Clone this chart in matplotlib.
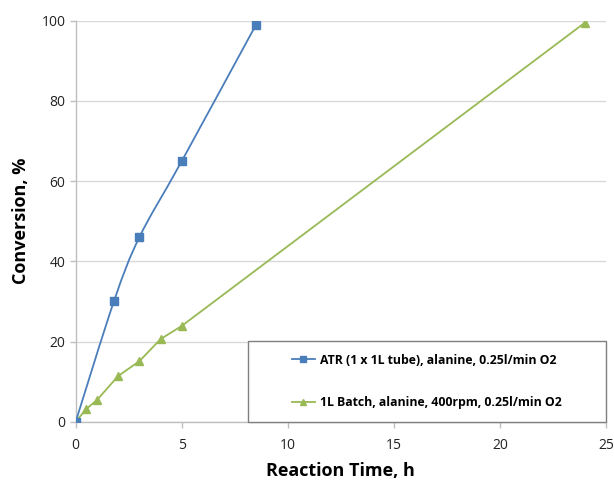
import matplotlib.pyplot as plt
import numpy as np
from matplotlib.path import Path
from matplotlib.patches import PathPatch, Rectangle

# data
atr_t = [0, 1.8, 3, 5, 8.5]
atr_conv = [0, 30, 46, 65, 99]
batch_t = [0, 0.5, 1, 2, 3, 4, 5, 24]
batch_conv = [0, 3.2, 5.4, 11.4, 15.1, 20.6, 23.9, 99.5]

atr_label = "ATR (1 x 1L tube), alanine, 0.25l/min O2"
batch_label = "1L Batch, alanine, 400rpm, 0.25l/min O2"
xticks = [0, 5, 10, 15, 20, 25]
yticks = [0, 20, 40, 60, 80, 100]

blue = "#4A7EBB"
green = "#98B954"
grey = "#BFBFBF"

plt.rcParams['font.family'] = ['Open Sans', 'DejaVu Sans']


def smooth_path(x, y, k=1 / 6.):
    # Excel style smoothed line through the given points (bezier segments)
    x = np.asarray(x, float)
    y = np.asarray(y, float)
    n = len(x)
    verts = [(x[0], y[0])]
    codes = [Path.MOVETO]
    for i in range(n - 1):
        p0 = np.array([x[max(i - 1, 0)], y[max(i - 1, 0)]])
        p1 = np.array([x[i], y[i]])
        p2 = np.array([x[i + 1], y[i + 1]])
        p3 = np.array([x[min(i + 2, n - 1)], y[min(i + 2, n - 1)]])
        c1 = p1 + (p2 - p0) * k
        c2 = p2 - (p3 - p1) * k
        verts += [tuple(c1), tuple(c2), tuple(p2)]
        codes += [Path.CURVE4] * 3
    return Path(verts, codes)


fig = plt.figure(figsize=(6.14, 4.82), dpi=100)
ax = fig.add_axes([0.1233, 0.125, 0.8637, 0.832])

ax.add_patch(PathPatch(smooth_path(atr_t, atr_conv), facecolor='none',
                       edgecolor=blue, lw=1.3, zorder=3))
ax.plot(atr_t, atr_conv, ls='none', marker='s', ms=5.5, color=blue, zorder=4)
ax.plot(batch_t, batch_conv, color=green, lw=1.3, marker='^', ms=5.5, zorder=3)

ax.set_xlim(0, 25)
ax.set_ylim(0, 100)
ax.set_xticks(xticks)
ax.set_yticks(yticks)
ax.tick_params(axis='both', colors=grey, labelcolor='#222222', labelsize=10,
               length=4, width=1)
ax.tick_params(axis='x', pad=8)
ax.grid(axis='y', color='#D9D9D9', lw=1)
ax.set_axisbelow(True)
for s in ['top', 'right']:
    ax.spines[s].set_visible(False)
for s in ['left', 'bottom']:
    ax.spines[s].set_color(grey)
    ax.spines[s].set_linewidth(1)

ax.set_xlabel("Reaction Time, h", fontsize=13, fontweight='bold', labelpad=6)
ax.set_ylabel("Conversion, %", fontsize=13, fontweight='bold', labelpad=8)

# legend box
bx0 = 8.1
ax.add_patch(Rectangle((bx0, 0), 25 - bx0 - 0.02, 20.2, transform=ax.transData,
                       facecolor='white', edgecolor='#7F7F7F', lw=1, zorder=5,
                       clip_on=False))
h1, = ax.plot([], [], color=blue, marker='s', ms=5, lw=1.3)
h2, = ax.plot([], [], color=green, marker='^', ms=5, lw=1.3)
leg = ax.legend([h1, h2], [atr_label, batch_label], loc='center',
                bbox_to_anchor=((bx0 + 25) / 2 / 25, 0.101), frameon=False,
                prop={'size': 8.8, 'weight': 'bold'}, labelspacing=2.4,
                handlelength=1.9, handletextpad=0.4)
leg.set_zorder(6)

fig.savefig("out.png", dpi=100)
